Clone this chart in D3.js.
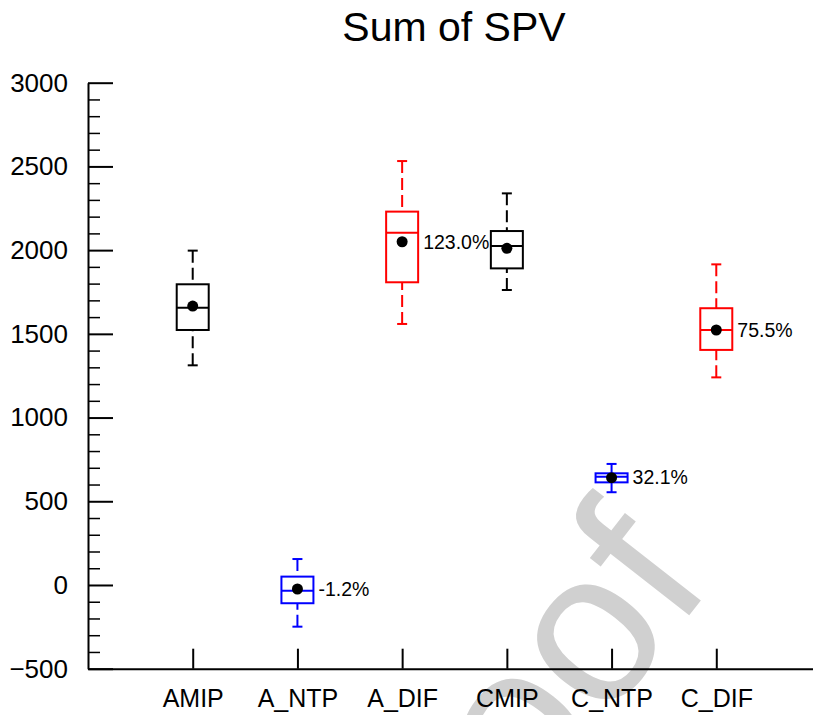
<!DOCTYPE html>
<html>
<head>
<meta charset="utf-8">
<script src="https://cdn.jsdelivr.net/npm/d3@7"></script>
<style>
    body { margin: 0; background: #fff; }
    svg { display: block; font-family: "Liberation Sans", Arial, sans-serif; }
    .axis path, .axis line { stroke: #000; stroke-width: 2; }
    .axis text { font-size: 25px; fill: #000; }
    .yaxis text { font-size: 26px; }
    .minor line { stroke-width: 1.5; }
</style>
</head>
<body>
<div id="chart"></div>
<script>
    // data
    var categories = ["AMIP", "A_NTP", "A_DIF", "CMIP", "C_NTP", "C_DIF"];
    var whiskerLow  = [1312, -249, 1559, 1762, 554, 1240];
    var q1          = [1523, -109, 1808, 1891, 613, 1404];
    var medians     = [1656,  -34, 2104, 2025, 647, 1523];
    var q3          = [1796,   50, 2230, 2114, 667, 1653];
    var whiskerHigh = [1997,  155, 2532, 2339, 723, 1915];
    var means       = [1666,  -24, 2050, 2011, 641, 1523];
    var pctLabels   = [null, "-1.2%", "123.0%", null, "32.1%", "75.5%"];
    var boxColors   = ["#000", "#00f", "#f00", "#000", "#00f", "#f00"];
    var yTicks = [-500, 0, 500, 1000, 1500, 2000, 2500, 3000];

    var width = 813, height = 715;
    var svg = d3.select("#chart").append("svg")
        .attr("width", width)
        .attr("height", height);

    var x = d3.scaleLinear().domain([0, 7]).range([88, 821]);
    var y = d3.scaleLinear().domain([-500, 3000]).range([668.7, 82.7]);

    var data = categories.map(function (c, i) {
        return { name: c, i: i + 1, lo: whiskerLow[i], q1: q1[i], med: medians[i],
                 q3: q3[i], hi: whiskerHigh[i], mean: means[i], pct: pctLabels[i], color: boxColors[i] };
    });

    // watermark
    svg.append("text")
        .attr("transform", "translate(398,988) rotate(-52)")
        .style("font-size", "215px")
        .style("fill", "#d0d0d0")
        .text("Proof");

    // title
    svg.append("text")
        .attr("x", 454).attr("y", 41)
        .attr("text-anchor", "middle")
        .style("font-size", "41px")
        .text("Sum of SPV");

    // minor y ticks
    var minorVals = d3.range(-500, 3001, 100).filter(function (v) { return v % 500 !== 0; });
    svg.append("g")
        .attr("class", "axis minor")
        .attr("transform", "translate(" + x(0) + ",0)")
        .call(d3.axisLeft(y).tickValues(minorVals).tickSizeInner(-12).tickSizeOuter(0).tickFormat(""))
        .select(".domain").remove();

    // major y axis
    svg.append("g")
        .attr("class", "axis yaxis")
        .attr("transform", "translate(" + x(0) + ",0)")
        .call(d3.axisLeft(y).tickValues(yTicks).tickSizeInner(-25).tickSizeOuter(0).tickPadding(20)
            .tickFormat(d3.format("d")));

    // x axis
    svg.append("g")
        .attr("class", "axis")
        .attr("transform", "translate(0," + y(-500) + ")")
        .call(d3.axisBottom(x).tickValues(d3.range(1, 7)).tickSizeInner(-20).tickSizeOuter(0).tickPadding(21)
            .tickFormat(function (d) { return categories[d - 1]; }));

    var boxW = 32, capW = 10;
    var g = svg.selectAll(".box").data(data).enter().append("g").attr("class", "box");

    // whiskers
    g.append("line")
        .attr("x1", function (d) { return x(d.i); }).attr("x2", function (d) { return x(d.i); })
        .attr("y1", function (d) { return y(d.hi); }).attr("y2", function (d) { return y(d.q3); })
        .attr("stroke", function (d) { return d.color; })
        .attr("stroke-width", 2).attr("stroke-dasharray", "12,5");
    g.append("line")
        .attr("x1", function (d) { return x(d.i); }).attr("x2", function (d) { return x(d.i); })
        .attr("y1", function (d) { return y(d.lo); }).attr("y2", function (d) { return y(d.q1); })
        .attr("stroke", function (d) { return d.color; })
        .attr("stroke-width", 2).attr("stroke-dasharray", "12,5");
    ["lo", "hi"].forEach(function (k) {
        g.append("line")
            .attr("x1", function (d) { return x(d.i) - capW / 2; })
            .attr("x2", function (d) { return x(d.i) + capW / 2; })
            .attr("y1", function (d) { return y(d[k]); }).attr("y2", function (d) { return y(d[k]); })
            .attr("stroke", function (d) { return d.color; })
            .attr("stroke-width", 2);
    });

    // box
    g.append("rect")
        .attr("x", function (d) { return x(d.i) - boxW / 2; })
        .attr("y", function (d) { return y(d.q3); })
        .attr("width", boxW)
        .attr("height", function (d) { return y(d.q1) - y(d.q3); })
        .attr("fill", "none")
        .attr("stroke", function (d) { return d.color; })
        .attr("stroke-width", 2);

    // median
    g.append("line")
        .attr("x1", function (d) { return x(d.i) - boxW / 2; })
        .attr("x2", function (d) { return x(d.i) + boxW / 2; })
        .attr("y1", function (d) { return y(d.med); }).attr("y2", function (d) { return y(d.med); })
        .attr("stroke", function (d) { return d.color; })
        .attr("stroke-width", 2);

    // mean
    g.append("circle")
        .attr("cx", function (d) { return x(d.i); })
        .attr("cy", function (d) { return y(d.mean); })
        .attr("r", 5.5)
        .attr("fill", "#000");

    // percent change labels
    g.filter(function (d) { return d.pct; })
        .append("text")
        .attr("x", function (d) { return x(d.i) + 21; })
        .attr("y", function (d) { return y(d.mean); })
        .attr("dy", "0.35em")
        .style("font-size", "19.5px")
        .text(function (d) { return d.pct; });
</script>
</body>
</html>
